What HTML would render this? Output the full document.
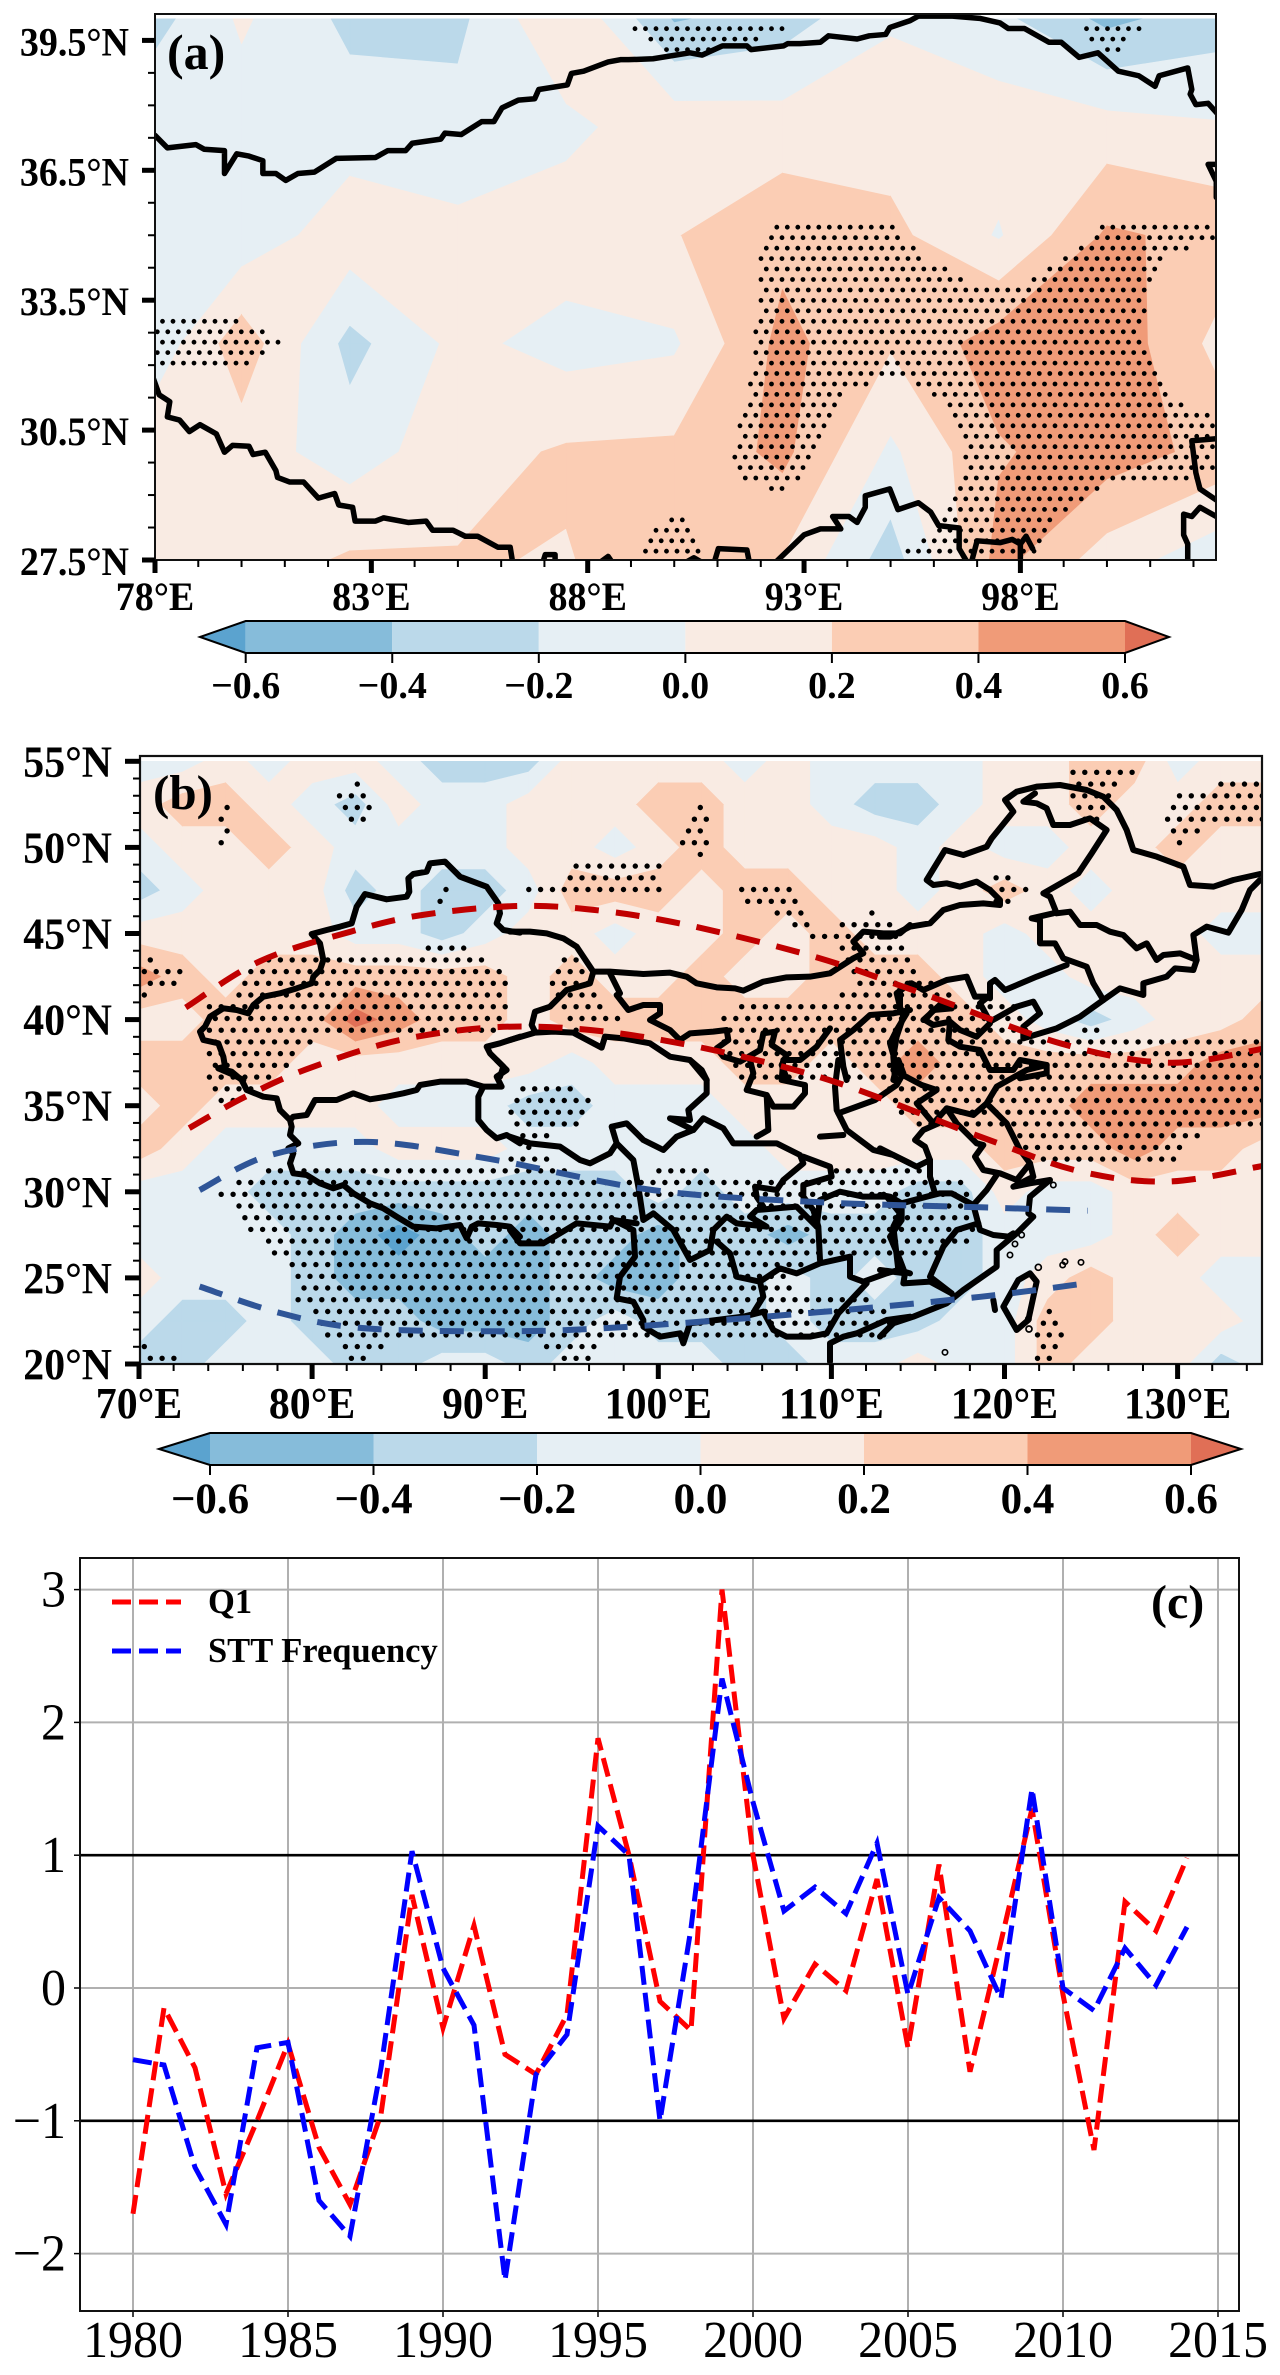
<!DOCTYPE html>
<html lang="en">
<head>
<meta charset="utf-8">
<title>Q1 anomaly maps and time series</title>
<style>
html,body{margin:0;padding:0;background:#fff;}
svg{display:block;font-family:"Liberation Serif",serif;}
.b{font-weight:bold;}
.bd polyline{fill:none;stroke:#000;stroke-linejoin:round;stroke-linecap:round;vector-effect:non-scaling-stroke;}
</style>
</head>
<body>
<svg id="fig" xmlns="http://www.w3.org/2000/svg" width="1280" height="2375" viewBox="0 0 1280 2375">
<defs>
<clipPath id="clipA"><rect x="155" y="14" width="1061" height="546"/></clipPath>
<clipPath id="clipB"><rect x="140" y="756" width="1122" height="608"/></clipPath>
</defs>
<g id="panelA">
<g id="fillA" clip-path="url(#clipA)"></g>
<g id="dotsA" clip-path="url(#clipA)"></g>
<g clip-path="url(#clipA)">
<g class="bd" transform="scale(.8163 .4591)" style="stroke-width:5.5">
<polyline points="190,295 205,322 240,315 250,325 275,328 275,378 290,335 305,340 322,350 322,378 338,378 350,393 365,378 385,375 412,345 460,343 475,328 497,328 505,312 540,303 545,290 565,293 590,265 605,265 615,235 635,218 655,215 660,195 695,185 700,160 715,155 745,135 760,130 770,130 800,128 845,115 860,120 885,100 915,100 920,108 960,100 965,95 980,95 1005,92 1015,78 1050,85 1065,78 1085,75 1090,60 1115,45 1125,35 1165,35 1200,40 1225,50 1235,62 1255,62 1285,92 1300,92 1322,125 1345,115 1370,155 1395,165 1415,188 1420,165 1455,148 1460,195 1458,205 1465,228 1480,225 1495,255"/>
<polyline points="1495,358 1480,358 1490,395 1490,430"/>
<polyline points="1495,955 1460,960 1465,1030 1470,1065 1495,1095"/>
<polyline points="1495,1130 1470,1105 1460,1125 1450,1120 1450,1165 1455,1185 1455,1225"/>
<polyline points="185,810 195,860 208,875 205,908 220,915 232,940 245,925 265,945 275,985 285,970 305,972 310,990 325,985 338,1025 340,1040 355,1050 372,1050 390,1085 410,1075 415,1100 432,1105 435,1135 460,1135 470,1128 500,1138 522,1135 530,1155 555,1155 570,1168 585,1168 610,1192 625,1192 628,1225"/>
<polyline points="665,1225 668,1208 680,1208 680,1225"/>
<polyline points="735,1225 745,1212 750,1225"/>
<polyline points="840,1225 850,1215 860,1225"/>
<polyline points="875,1225 880,1195 915,1198 918,1225"/>
<polyline points="950,1225 985,1165 1005,1152 1030,1152 1020,1125 1040,1125 1050,1138 1060,1105 1060,1080 1090,1065 1100,1110 1125,1095 1140,1115 1150,1145 1175,1150 1175,1195 1185,1225"/>
<polyline points="1190,1225 1197,1178 1225,1182 1240,1175 1250,1185 1257,1168 1265,1195"/>
<polyline points="1250,1185 1250,1225"/>
</g>
</g>
</g>
<g id="panelB">
<g id="fillB" clip-path="url(#clipB)"></g>
<g id="dotsB" clip-path="url(#clipB)"></g>
<g clip-path="url(#clipB)">
<g class="bd" style="stroke-width:6" transform="translate(120 750) scale(.33333)">
<polyline points="1200,548 1150,540 1130,520 1140,490 1135,460 1100,410 1060,395 1020,380 990,350 975,335 930,340 920,365 880,372 865,385 868,425 860,440 800,448 735,432 710,470 695,520 660,530 620,540 575,552 600,580 610,630 600,660 580,680 575,700 530,715 480,730 430,740 400,765 385,790 350,780 310,775 270,800 255,830 240,845 250,870 295,880 310,920 315,950 295,955 330,970 370,990"/>
<polyline points="1200,860 1140,880 1100,890 1110,910 1150,950 1140,980"/>
</g>
<g class="bd" style="stroke-width:6" transform="translate(120 1060) scale(.33333)">
<polyline points="295,25 335,35 365,60 380,90 430,110 470,115 480,150 510,180 515,200 510,225 535,250 505,265 520,280 510,310 520,340 560,345 600,370 640,385 670,375 700,400 750,430 790,445 830,470 880,500 950,505 1020,495 1040,535 1055,500 1075,490 1130,495 1170,500 1200,530"/>
<polyline points="510,180 520,170 560,165 585,120 650,120 700,100 750,118 800,110 850,100 890,90 900,75 960,65 1040,65 1090,80 1145,80 1130,50 1160,30 1130,0"/>
<polyline points="1090,80 1075,110 1075,180 1100,210 1130,235 1160,225 1200,250"/>
</g>
<g class="bd" style="stroke-width:6" transform="translate(510 750) scale(.33333)">
<polyline points="0,545 60,545 110,550 160,565 200,590 220,620 250,665 300,665 400,672 480,668 530,680 560,700 620,712 675,715 700,722 760,695 830,682 900,680 960,670 1030,625 1060,610 1030,575 1060,545 1120,550 1170,550 1200,525"/>
<polyline points="250,665 240,700 170,720 120,770 75,785 65,825 75,845"/>
<polyline points="0,870 75,848 130,845 190,848 275,893 285,860 340,865 420,880 480,920 540,930 575,960 590,990"/>
<polyline points="300,670 330,730 320,735 355,780 400,765 450,765 450,790 420,810 480,840 510,870 540,850 610,845 650,840 655,870 620,895 640,920 690,935 750,900 760,850 795,845 785,885 830,915 815,945 830,985"/>
<polyline points="830,930 870,930 920,890 960,835"/>
<polyline points="1200,780 1150,790 1080,795 1030,840 990,870 1000,950 1010,990"/>
<polyline points="1200,700 1160,730 1170,770 1180,800 1160,860 1150,920 1155,990"/>
</g>
<g class="bd" style="stroke-width:6" transform="translate(880 750) scale(.33333)">
<polyline points="0,560 30,560 60,545 90,530 150,520 190,480 240,465 310,460 360,465 360,450 330,420 290,395 240,410 200,400 160,405 140,390 195,300 250,315 320,290 335,265 400,185 375,150 410,125 470,110 540,105 620,120 670,140 710,180 740,240 760,300 830,320 910,350 930,405 1000,410 1060,390 1140,372"/>
<polyline points="1140,390 1110,420 1085,480 1045,548 980,530 940,555 950,630 900,610 850,615 830,630 800,580 770,595 730,555 690,545 650,525 600,525 570,485 530,490 510,440 490,430 595,370 635,310 680,240 630,205 570,225 520,225 500,175 470,160 430,155 465,130"/>
<polyline points="950,630 940,660 885,655 860,680 790,700 790,735 720,715 670,750 640,700 620,650 550,625 525,580 480,580 480,510 455,505 520,490"/>
<polyline points="670,750 600,800 530,835 430,865 430,830 480,790 460,755 410,770 330,815 300,760 325,740 285,740 260,680 200,690 130,720 95,700 60,720 60,780 80,790 50,840 30,880 50,950 40,990"/>
<polyline points="560,645 470,680 375,720 345,690 330,700 330,745"/>
<polyline points="215,775 160,780 135,810 160,825 210,815 240,840 290,860 330,820"/>
<polyline points="215,775 190,755 130,810"/>
<polyline points="210,815 205,870 240,890 300,900 330,960 400,960 420,930 500,945 500,970 420,985"/>
</g>
<g class="bd" style="stroke-width:6" transform="translate(510 1060) scale(.33333)">
<polyline points="0,230 60,250 150,260 210,300 240,310 300,280 320,250 305,200 350,190 400,240 460,270 500,230 550,210 480,175 540,180 535,150 590,100 590,60 540,0"/>
<polyline points="550,210 580,175 640,205 670,250 740,250 800,250 870,285 880,310 820,360 800,390 735,380 740,410 760,440"/>
<polyline points="880,290 960,320 965,350 880,375 880,410 910,450 925,500 930,600"/>
<polyline points="320,250 370,300 385,380 400,480 430,460 490,510 540,600 600,570 610,510 650,470 680,490 770,500 720,470 740,450 860,440 920,500"/>
<polyline points="0,510 30,550 100,550 200,490 300,500 310,480 380,490"/>
<polyline points="310,480 370,510 375,590 330,650 320,715 370,725 400,780 400,800 450,830 510,820 520,850 540,790 620,780 700,770 760,755 790,810 830,830 900,830 950,820 985,760 1070,670"/>
<polyline points="620,545 660,580 680,650 750,665 810,625 860,640 930,610 1020,590 1020,650 1060,665 1130,640 1165,630 1150,500 1170,460 1130,410 1060,410 990,395 930,420 920,500"/>
<polyline points="750,665 760,710 735,750"/>
<polyline points="1200,770 1130,780 1040,820 1000,830 960,850 960,905"/>
<polyline points="985,0 975,80 980,150 1010,210 1090,270 1150,285 1200,310"/>
<polyline points="985,160 1095,120 1160,75 1180,40 1165,0"/>
<polyline points="930,230 1000,225"/>
<polyline points="720,0 730,40 710,90 770,105 790,140 850,140 885,100 885,75 815,60 820,0"/>
<polyline points="770,105 775,210 740,230"/>
<polyline points="1165,630 1200,640"/>
</g>
<g class="bd" style="stroke-width:6" transform="translate(880 1060) scale(.33333)">
<polyline points="500,15 440,30 350,80 320,130 380,190 420,270 450,310 460,350 400,380 450,370 510,360 450,410 445,460 460,470 410,520 350,570 350,620 250,690 200,730 100,770 40,790 0,830"/>
<polyline points="320,130 280,165 200,145 160,190 110,130 170,90 125,75 40,30"/>
<polyline points="200,145 230,190 290,250 310,255 285,290 310,330 360,340 410,360 450,310"/>
<polyline points="175,190 130,210 105,240 135,260 150,300 110,320 50,290 0,265"/>
<polyline points="150,300 150,350 165,400"/>
<polyline points="350,345 320,390 280,435 215,400 180,400 140,410 65,430 30,410 0,405"/>
<polyline points="280,435 300,510 340,525 385,530 400,520"/>
<polyline points="295,490 230,510 190,560 150,650 215,700"/>
<polyline points="65,430 65,480 30,530 60,600 75,640 0,630"/>
<polyline points="75,640 70,670 150,665 215,700"/>
<polyline points="415,660 450,640 470,665 445,780 410,810 370,740 415,660"/>
<polyline points="340,720 345,750"/>
</g>
<g id="islands" fill="none" stroke="#000" transform="translate(880 1060) scale(.33333)" style="stroke-width:5">
<circle cx="195" cy="877" r="8"/><circle cx="603" cy="607" r="8"/><circle cx="555" cy="605" r="8"/><circle cx="548" cy="615" r="8"/><circle cx="445" cy="777" r="8"/><circle cx="447" cy="807" r="9"/><circle cx="475" cy="622" r="9"/><circle cx="390" cy="585" r="8"/><circle cx="405" cy="552" r="8"/><circle cx="425" cy="525" r="8"/><circle cx="520" cy="375" r="8"/>
</g>
</g>
<g id="curvesB" clip-path="url(#clipB)"></g>
</g>
<g id="panelC"></g>
<g id="axesOverlay"></g>
</svg>
<script>
// ---------- Panel (c) data ----------
const years = [1980,1981,1982,1983,1984,1985,1986,1987,1988,1989,1990,1991,1992,1993,1994,1995,1996,1997,1998,1999,2000,2001,2002,2003,2004,2005,2006,2007,2008,2009,2010,2011,2012,2013,2014];
const q1Values = [-1.7,-0.15,-0.6,-1.55,-1.0,-0.42,-1.2,-1.63,-0.95,0.7,-0.3,0.47,-0.5,-0.65,-0.2,1.88,1.0,-0.1,-0.32,3.0,1.0,-0.23,0.18,-0.02,0.82,-0.45,0.93,-0.63,0.35,1.35,-0.05,-1.22,0.65,0.43,0.98];
const sttValues = [-0.54,-0.58,-1.35,-1.78,-0.45,-0.41,-1.6,-1.87,-0.6,1.03,0.15,-0.28,-2.2,-0.65,-0.35,1.22,1.0,-1.0,0.45,2.33,1.4,0.58,0.76,0.56,1.09,-0.05,0.68,0.43,-0.08,1.5,0.0,-0.17,0.3,0.02,0.46];
const xTicksC = [1980,1985,1990,1995,2000,2005,2010,2015];
const yTicksC = [-2,-1,0,1,2,3];
const refLevelsC = [1,-1];

// ---------- Colour scale ----------
const cbLevels = [-0.6,-0.4,-0.2,0,0.2,0.4,0.6];
const cbLabels = ['\u22120.6','\u22120.4','\u22120.2','0.0','0.2','0.4','0.6'];
const bandColors = ['#5ba3cf','#86bcda','#bbd9ea','#e6eff4','#f9ebe3','#fbcdb4','#f09b78','#e06f56'];

// ---------- Panel (a) field ----------
const lonsA = [77.5,80,82.5,85,87.5,90,92.5,95,97.5,100,102.5];
const latsA = [40,37.5,35,32.5,30,27.5];
const fieldA = [
[-0.35,0.03,-0.25,-0.25,0.2,-0.42,-0.3,-0.02,-0.15,-0.45,-0.3],
[-0.1,-0.1,-0.1,-0.13,-0.056,0.13,0.096,0.1,0.11,0.08,0.02],
[-0.15,-0.133,0.12,0.05,0.12,0.19,0.34,0.256,-0.02,0.43,0.345],
[-0.25,0.32,-0.265,0.054,-0.08,-0.03,0.46,0.22,0.5,0.55,0.15],
[0.05,0.1,-0.1,0.12,0.224,0.24,0.45,-0.04,0.38,0.5,0.34],
[0.05,0.08,0.228,0.212,0.19,0.3,0.19,-0.3,0.467,0.1,-0.127]];
const sigA = [
[0,0,0,0,0,1,0.55,0,0,0.77,0.1],
[0,0,0,0,0,-0.5,0,0,0,0,0],
[0,0,0,0,0,0,0.6,0.55,0,0.6,0.6],
[0.65,0.63,0.28,0,0,-1,1,1,1,1,-0.5],
[0,0,0,0,0,0,1,-0.7,1,1,1],
[0,0,0,0,0,0.85,-0.39,0.55,1,-0.5,-1.13]];

// ---------- Panel (b) field (units of 0.1) ----------
const lonsB = [70,72.5,75,77.5,80,82.5,85,87.5,90,92.5,95,97.5,100,102.5,105,107.5,110,112.5,115,117.5,120,122.5,125,127.5,130,132.5,135];
const latsB = [55,52.5,50,47.5,45,42.5,40,37.5,35,32.5,30,27.5,25,22.5,20];
const fieldB = [
[-1,-1,1,-1,1,1,-1,-3,-3,-3,1,1,1,1,-1,1,-1,-1,-1,-1,1,1,3,3,-1,1,1],
[1,3,3,1,-1,-3,1,-1,-1,1,1,1,3,3,1,1,-1,-3,-3,-1,1,1,3,1,1,3,3],
[-1,1,1,3,1,-1,-1,-1,-1,1,1,-1,1,3,1,1,1,1,-1,1,-1,-1,1,1,3,1,1],
[-3,-1,1,1,1,-3,-1,-3,-3,-1,3,3,3,1,3,3,1,1,-1,1,3,1,-1,1,1,1,1],
[1,1,1,1,1,-1,-1,-3,-1,1,1,-1,1,1,3,1,3,1,1,1,-1,1,1,1,1,-1,-1],
[5,3,1,3,3,3,3,3,3,1,3,1,1,3,1,1,3,3,3,1,-1,-1,1,1,1,1,1],
[1,1,3,3,3,7,5,3,3,1,3,3,3,3,3,3,3,3,3,3,1,-1,-3,-1,1,1,3],
[3,3,3,3,1,1,1,1,1,1,-1,1,1,1,3,3,1,3,5,3,3,3,3,3,3,5,5],
[1,3,1,1,1,1,-1,-1,-1,-3,-3,-1,-1,-1,1,1,1,1,3,3,3,3,5,5,5,5,5],
[3,1,-1,-1,-1,-1,1,1,1,-1,-1,-1,-1,-1,-1,1,1,1,1,1,3,3,3,5,3,3,1],
[-1,-1,-1,-3,-3,-3,-3,-3,-3,-3,-3,-3,-1,-3,-1,-1,-1,-1,-3,-3,1,-1,-1,1,1,1,1],
[-1,-1,-1,-1,-3,-5,-7,-5,-3,-5,-3,-3,-5,-3,-3,-5,-3,-3,-3,-3,-1,-1,-1,1,3,1,1],
[1,-1,-1,-1,-3,-5,-5,-5,-5,-5,-3,-5,-5,-3,-3,-1,-3,-1,-3,-3,-1,1,3,1,1,-1,-1],
[-1,-3,-3,-1,-3,-3,-3,-5,-5,-5,-3,-1,-3,-3,-3,-1,-3,-3,-3,-1,-1,3,3,1,1,1,-1],
[-3,-3,-1,-1,-1,-3,-3,-1,-1,-3,-1,-1,-1,-1,-3,-3,-1,-1,1,-1,-1,3,1,1,1,-3,-1]];
const sigB = [
[0,0,0,0,0,0,0,0,0,0,0,0,0,0,0,0,0,0,0,0,0,0,10,7,0,0,0],
[0,0,6,0,0,10,0,0,0,0,0,0,0,6,0,0,0,0,0,0,0,0,10,0,7,10,10],
[0,0,6,0,0,0,0,0,0,0,4.5,4.5,4.5,6,0,0,0,0,0,0,0,0,0,0,6,0,0],
[0,0,0,0,0,0,0,6,0,5.4,5.8,5.8,5.8,0,7,7,0,0,0,0,10,0,0,0,0,0,0],
[0,0,0,0,0,0,0,5,0,0,0,0,0,0,0,5,6,10,0,0,0,0,0,0,0,0,0],
[10,6,0,10,10,10,10,10,10,0,10,0,0,0,0,0,0,10,6,0,0,0,0,0,0,0,0],
[0,0,10,10,10,10,10,10,10,0,7,6,0,0,10,10,10,10,10,10,10,0,5,0,0,0,0],
[0,0,10,10,0,0,0,0,0,0,0,0,0,0,10,10,10,10,10,10,10,10,10,10,10,10,10],
[0,0,6,0,0,0,0,0,0,10,10,0,0,0,0,0,0,0,10,10,10,10,10,10,10,10,10],
[0,0,0,0,0,0,0,0,0,6,0,0,0,0,0,0,0,0,0,0,0,10,10,10,7,0,0],
[0,0,6,10,10,10,10,10,10,10,10,6,10,10,8,7,10,10,10,7,0,0,0,0,0,0,0],
[0,0,0,8,10,10,10,10,10,10,10,10,10,10,10,10,10,10,10,7,0,0,0,0,0,0,0],
[0,0,0,0,10,10,10,10,10,10,10,10,10,10,10,5,0,0,0,0,0,0,0,0,0,0,0],
[0,0,0,0,5,10,10,10,10,10,10,10,10,10,10,7,10,10,0,0,0,8,0,0,0,0,0],
[10,5,0,0,0,6,0,0,0,0,7,0,0,0,0,0,0,0,0,0,0,7,0,0,0,0,0]];

// ---------- Panel (b) dashed curves (lon, lat) ----------
const redUpperLon = [72.7,77,82.2,86.5,92.1,96.9,102.1,109.2,115.3,123.3,129.5,134.9];
const redUpperLat = [40.7,43.4,45.1,46.1,46.6,46.3,45.4,43.6,41.5,38.6,37.5,38.3];
const redLowerLon = [72.9,76.1,79.9,85.5,92.1,99.7,109.2,118.6,124.3,129.5,134.9];
const redLowerLat = [33.7,35.5,37.2,38.9,39.6,38.9,36.7,33.2,31.2,30.6,31.5];
const blueUpperLon = [73.5,77.5,83.2,90.3,99.7,109.2,118.6,124.8];
const blueUpperLat = [30.1,32.1,32.9,31.9,30.1,29.4,29.1,28.9];
const blueLowerLon = [73.5,78,82.7,90.3,97.3,109.2,118.6,124.8];
const blueLowerLat = [24.5,23,22.1,21.9,22.1,23,23.9,24.7];

const NS='http://www.w3.org/2000/svg';
const overlay=document.getElementById('axesOverlay');

// Axis functions
const xA=lon=>155+(lon-78)*43.27;
const yA=lat=>560-(lat-27.5)*43.3;
const xB=lon=>139+(lon-70)*17.31;
const yB=lat=>1364-(lat-20)*17.22;
const xC=yr=>133+(yr-1980)*31.0;
const yC=v=>1988-v*132.8;

function makeLine(parent,x1,y1,x2,y2,w,color,name){
  const el=document.createElementNS(NS,'line');
  el.setAttribute('x1',x1);el.setAttribute('y1',y1);el.setAttribute('x2',x2);el.setAttribute('y2',y2);
  el.setAttribute('stroke',color);el.setAttribute('stroke-width',w);
  
  
  parent.appendChild(el);
  return el;
}
function makeText(parent,str,x,y,size,anchor,bold,name,sx){
  const el=document.createElementNS(NS,'text');
  el.textContent=str;
  if(sx){
    el.setAttribute('transform','translate('+x+' '+y+') scale('+sx+' 1)');
  }else{
    el.setAttribute('x',x);el.setAttribute('y',y);
  }
  el.setAttribute('font-size',size);el.setAttribute('text-anchor',anchor);
  if(bold)el.setAttribute('font-weight','bold');
  
  
  parent.appendChild(el);
  return el;
}
function makePath(parent,d,fill,stroke,w,name){
  const el=document.createElementNS(NS,'path');
  el.setAttribute('d',d);el.setAttribute('fill',fill);
  el.setAttribute('stroke',stroke);el.setAttribute('stroke-width',w);
  
  
  parent.appendChild(el);
  return el;
}

// Filled contours: clip each grid cell to each band
function clip(poly,t,keepAbove){
  const out=[];
  for(let i=0;i<poly.length;i++){
    const a=poly[i],b=poly[(i+1)%poly.length];
    const ai=keepAbove?a.v>=t:a.v<=t, bi=keepAbove?b.v>=t:b.v<=t;
    if(ai)out.push(a);
    if(ai!==bi){
      const f=(t-a.v)/(b.v-a.v);
      out.push({lon:a.lon+(b.lon-a.lon)*f,lat:a.lat+(b.lat-a.lat)*f,v:t});
    }
  }
  return out;
}
function drawField(gid,lons,lats,field,scale,xf,yf){
  const g=document.getElementById(gid);
  const edges=[-Infinity].concat(cbLevels,[Infinity]);
  for(let b=0;b<bandColors.length;b++){
    let d='';
    for(let r=0;r<lats.length-1;r++)for(let c=0;c<lons.length-1;c++){
      let poly=[
        {lon:lons[c],lat:lats[r],v:field[r][c]*scale},
        {lon:lons[c+1],lat:lats[r],v:field[r][c+1]*scale},
        {lon:lons[c+1],lat:lats[r+1],v:field[r+1][c+1]*scale},
        {lon:lons[c],lat:lats[r+1],v:field[r+1][c]*scale}];
      if(edges[b]>-Infinity)poly=clip(poly,edges[b],true);
      if(poly.length&&edges[b+1]<Infinity)poly=clip(poly,edges[b+1],false);
      if(poly.length>=3){
        d+='M'+poly.map(p=>xf(p.lon).toFixed(1)+' '+yf(p.lat).toFixed(1)).join('L')+'Z';
      }
    }
    if(d)makePath(g,d,bandColors[b],bandColors[b],0.7,'contour-band-'+b);
  }
}
function sample(lons,lats,grid,lon,lat){
  const c=(lon-lons[0])/(lons[1]-lons[0]), r=(lat-lats[0])/(lats[1]-lats[0]);
  if(c<0||r<0||c>lons.length-1||r>lats.length-1)return -1;
  const c0=Math.min(Math.floor(c),lons.length-2), r0=Math.min(Math.floor(r),lats.length-2);
  const u=c-c0,w=r-r0;
  return (grid[r0][c0]*(1-u)+grid[r0][c0+1]*u)*(1-w)+(grid[r0+1][c0]*(1-u)+grid[r0+1][c0+1]*u)*w;
}
function drawDots(gid,lons,lats,grid,thr,xf,yf,lonStart,latStart,dLon,dLat,rad){
  let d='';
  const latMin=Math.min.apply(null,lats),latMax=Math.max.apply(null,lats);
  const lonMin=lons[0],lonMax=lons[lons.length-1];
  const kMin=Math.floor((latMin-latStart)/dLat)-1,kMax=Math.ceil((latMax-latStart)/dLat)+1;
  for(let k=kMin;k<=kMax;k++){
    const lat=latStart+k*dLat;
    const off=((k%2)+2)%2?dLon/2:0;
    const jMin=Math.floor((lonMin-lonStart)/dLon)-1,jMax=Math.ceil((lonMax-lonStart)/dLon)+1;
    for(let j=jMin;j<=jMax;j++){
      const lon=lonStart+off+j*dLon;
      if(sample(lons,lats,grid,lon,lat)>thr){
        const x=xf(lon),y=yf(lat);
        d+='M'+(x-rad).toFixed(1)+' '+y.toFixed(1)+'a'+rad+' '+rad+' 0 1 0 '+(2*rad)+' 0a'+rad+' '+rad+' 0 1 0 '+(-2*rad)+' 0';
      }
    }
  }
  makePath(document.getElementById(gid),d,'#000','none',0,'stipple-dots');
}
drawField('fillA',lonsA,latsA,fieldA,1,xA,yA);
drawField('fillB',lonsB,latsB,fieldB,0.1,xB,yB);
drawDots('dotsA',lonsA,latsA,sigA,0.5,xA,yA,(761-155)/43.27+78,27.5+(560-237.7)/43.3,10.5/43.27,10.45/43.3,2.4);
drawDots('dotsB',lonsB,latsB,sigB,5,xB,yB,(327.7-139)/17.31+70,20+(1364-983.3)/17.22,11.83/17.31,11.72/17.22,2.7);

// Dashed curves (Catmull-Rom through the points)
function smooth(lons,lats,xf,yf){
  const p=lons.map((l,i)=>[xf(l),yf(lats[i])]);
  let d='M'+p[0][0].toFixed(1)+' '+p[0][1].toFixed(1);
  for(let i=0;i<p.length-1;i++){
    const a=p[Math.max(i-1,0)],b=p[i],c=p[i+1],e=p[Math.min(i+2,p.length-1)];
    d+='C'+(b[0]+(c[0]-a[0])/6).toFixed(1)+' '+(b[1]+(c[1]-a[1])/6).toFixed(1)+' '+
      (c[0]-(e[0]-b[0])/6).toFixed(1)+' '+(c[1]-(e[1]-b[1])/6).toFixed(1)+' '+c[0].toFixed(1)+' '+c[1].toFixed(1);
  }
  return d;
}
const curvesG=document.getElementById('curvesB');
const c1=makePath(curvesG,smooth(redUpperLon,redUpperLat,xB,yB),'none','#c00000',6,'red-upper-curve');
c1.setAttribute('stroke-dasharray','24 17');
const c2=makePath(curvesG,smooth(redLowerLon,redLowerLat,xB,yB),'none','#c00000',6,'red-lower-curve');
c2.setAttribute('stroke-dasharray','24 17');
const c3=makePath(curvesG,smooth(blueUpperLon,blueUpperLat,xB,yB),'none','#2f5597',6,'blue-upper-curve');
c3.setAttribute('stroke-dasharray','24 17');
const c4=makePath(curvesG,smooth(blueLowerLon,blueLowerLat,xB,yB),'none','#2f5597',6,'blue-lower-curve');
c4.setAttribute('stroke-dasharray','24 17');

// Name the base-map outlines
document.querySelectorAll('.bd').forEach(function(g){
  
  
});
document.querySelectorAll('.bd polyline').forEach(function(p){
  
  
  p.style.strokeWidth=p.parentNode.style.strokeWidth;
});
document.querySelectorAll('#islands circle').forEach(function(p){
  
  
});

// Frames and ticks of the maps
function frame(parent,l,t,r,b,w,name){
  const el=document.createElementNS(NS,'rect');
  el.setAttribute('x',l);el.setAttribute('y',t);el.setAttribute('width',r-l);el.setAttribute('height',b-t);
  el.setAttribute('fill','none');el.setAttribute('stroke','#111');el.setAttribute('stroke-width',w);
  
  
  parent.appendChild(el);
}
frame(overlay,155,14,1216,560,2,'panel-a-frame');
frame(overlay,140,756,1262,1364,2.2,'panel-b-frame');

// Panel (a) ticks
const xMajorA=[78,83,88,93,98];
const yMajorA=[27.5,30.5,33.5,36.5,39.5];
for(let lon=78;lon<=102.5;lon+=1){
  if(xMajorA.indexOf(lon)<0)makeLine(overlay,xA(lon),560,xA(lon),567,2,'#000','x-minor-tick');
}
for(let k=0;k<=16;k++){
  const lat=27.5+k*0.75;
  if(yMajorA.indexOf(lat)<0)makeLine(overlay,148,yA(lat),155,yA(lat),2,'#000','y-minor-tick');
}
xMajorA.forEach(function(lon){
  makeLine(overlay,xA(lon),560,xA(lon),573,5,'#000','x-major-tick');
  makeText(overlay,lon+'°E',xA(lon),610,40,'middle',true,'x-tick-label',0.95);
});
yMajorA.forEach(function(lat){
  makeLine(overlay,142,yA(lat),155,yA(lat),5,'#000','y-major-tick');
  makeText(overlay,lat.toFixed(1)+'°N',129,yA(lat)+15,40,'end',true,'y-tick-label',0.95);
});
makeText(overlay,'(a)',167,69,50,'start',true,'panel-a-label');

// Panel (b) ticks
const xMajorB=[70,80,90,100,110,120,130];
const yMajorB=[20,25,30,35,40,45,50,55];
for(let lon=70;lon<=134;lon+=2){
  if(xMajorB.indexOf(lon)<0)makeLine(overlay,xB(lon),1364,xB(lon),1371,2,'#000','x-minor-tick');
}
for(let lat=20;lat<=55;lat+=1){
  if(yMajorB.indexOf(lat)<0)makeLine(overlay,133,yB(lat),140,yB(lat),2,'#000','y-minor-tick');
}
xMajorB.forEach(function(lon){
  makeLine(overlay,xB(lon),1364,xB(lon),1379,5,'#000','x-major-tick');
  makeText(overlay,lon+'°E',xB(lon),1418,44,'middle',true,'x-tick-label',0.95);
});
yMajorB.forEach(function(lat){
  makeLine(overlay,125,yB(lat),140,yB(lat),5,'#000','y-major-tick');
  makeText(overlay,lat+'°N',112,yB(lat)+15,44,'end',true,'y-tick-label',0.95);
});
makeText(overlay,'(b)',153,809,49,'start',true,'panel-b-label');

// Colorbars
function colorbar(name,left,right,tipL,tipR,top,bot,tickLen,labelY,size){
  const cb=document.createElementNS(NS,'g');
  
  
  overlay.appendChild(cb);
  const vx=v=>left+(v-cbLevels[0])/(cbLevels[cbLevels.length-1]-cbLevels[0])*(right-left);
  const mid=(top+bot)/2;
  makePath(cb,'M'+tipL+' '+mid+'L'+left+' '+top+'L'+left+' '+bot+'Z',bandColors[0],'none',0,'colorbar-lower-extension');
  makePath(cb,'M'+tipR+' '+mid+'L'+right+' '+top+'L'+right+' '+bot+'Z',bandColors[7],'none',0,'colorbar-upper-extension');
  for(let i=0;i<cbLevels.length-1;i++){
    const x0=vx(cbLevels[i]),x1=vx(cbLevels[i+1]);
    makePath(cb,'M'+x0+' '+top+'L'+x1+' '+top+'L'+x1+' '+bot+'L'+x0+' '+bot+'Z',bandColors[i+1],'none',0,'colorbar-segment');
  }
  makePath(cb,'M'+tipL+' '+mid+'L'+left+' '+top+'L'+right+' '+top+'L'+tipR+' '+mid+'L'+right+' '+bot+'L'+left+' '+bot+'Z','none','#000',2,'colorbar-outline');
  cbLevels.forEach(function(v,i){
    makeLine(cb,vx(v),bot,vx(v),bot+tickLen,2,'#000','colorbar-tick');
    makeText(cb,cbLabels[i],vx(v),labelY,size,'middle',true,'colorbar-label');
  });
}
colorbar('colorbar-a',245.7,1125,200,1169,621,653,10,698,38);
colorbar('colorbar-b',210,1191,159,1241,1433,1465,10,1513,43);

// Panel (c)
const pc=document.getElementById('panelC');
const cLeft=80,cRight=1239,cTop=1558,cBottom=2311;
xTicksC.forEach(function(yr){
  makeLine(pc,xC(yr),cTop,xC(yr),cBottom,2,'#b0b0b0','x-grid-line');
  makeLine(pc,xC(yr),cBottom,xC(yr),cBottom+6,1.5,'#000','x-tick');
  makeText(pc,String(yr),xC(yr),2357,52,'middle',false,'x-tick-label',0.96);
});
yTicksC.forEach(function(v){
  makeLine(pc,cLeft,yC(v),cRight,yC(v),2,'#b0b0b0','y-grid-line');
  makeLine(pc,cLeft-6,yC(v),cLeft,yC(v),1.5,'#000','y-tick');
  makeText(pc,(v<0?'\u2212':'')+Math.abs(v),66,yC(v)+17,52,'end',false,'y-tick-label',0.96);
});
refLevelsC.forEach(function(v){
  makeLine(pc,cLeft,yC(v),cRight,yC(v),2.6,'#000','reference-line');
});
function seriesPath(vals){
  return vals.map((v,i)=>(i?'L':'M')+xC(years[i]).toFixed(1)+' '+yC(v).toFixed(1)).join('');
}
const s1=makePath(pc,seriesPath(q1Values),'none','#ff0000',5,'q1-line');
s1.setAttribute('stroke-dasharray','19 8');
const s2=makePath(pc,seriesPath(sttValues),'none','#0000ff',5,'stt-frequency-line');
s2.setAttribute('stroke-dasharray','19 8');
frame(pc,cLeft,cTop,cRight,cBottom,2,'panel-c-frame');
const leg=document.createElementNS(NS,'g');


pc.appendChild(leg);
const l1=makeLine(leg,112,1602,181,1602,5,'#ff0000','legend-q1-swatch');
l1.setAttribute('stroke-dasharray','19 8');
makeText(leg,'Q1',208,1613,34.5,'start',true,'legend-q1-label');
const l2=makeLine(leg,112,1651,181,1651,5,'#0000ff','legend-stt-swatch');
l2.setAttribute('stroke-dasharray','19 8');
makeText(leg,'STT Frequency',208,1662,34.5,'start',true,'legend-stt-label');
makeText(pc,'(c)',1151,1618,48,'start',true,'panel-c-label');
</script>
</body>
</html>
